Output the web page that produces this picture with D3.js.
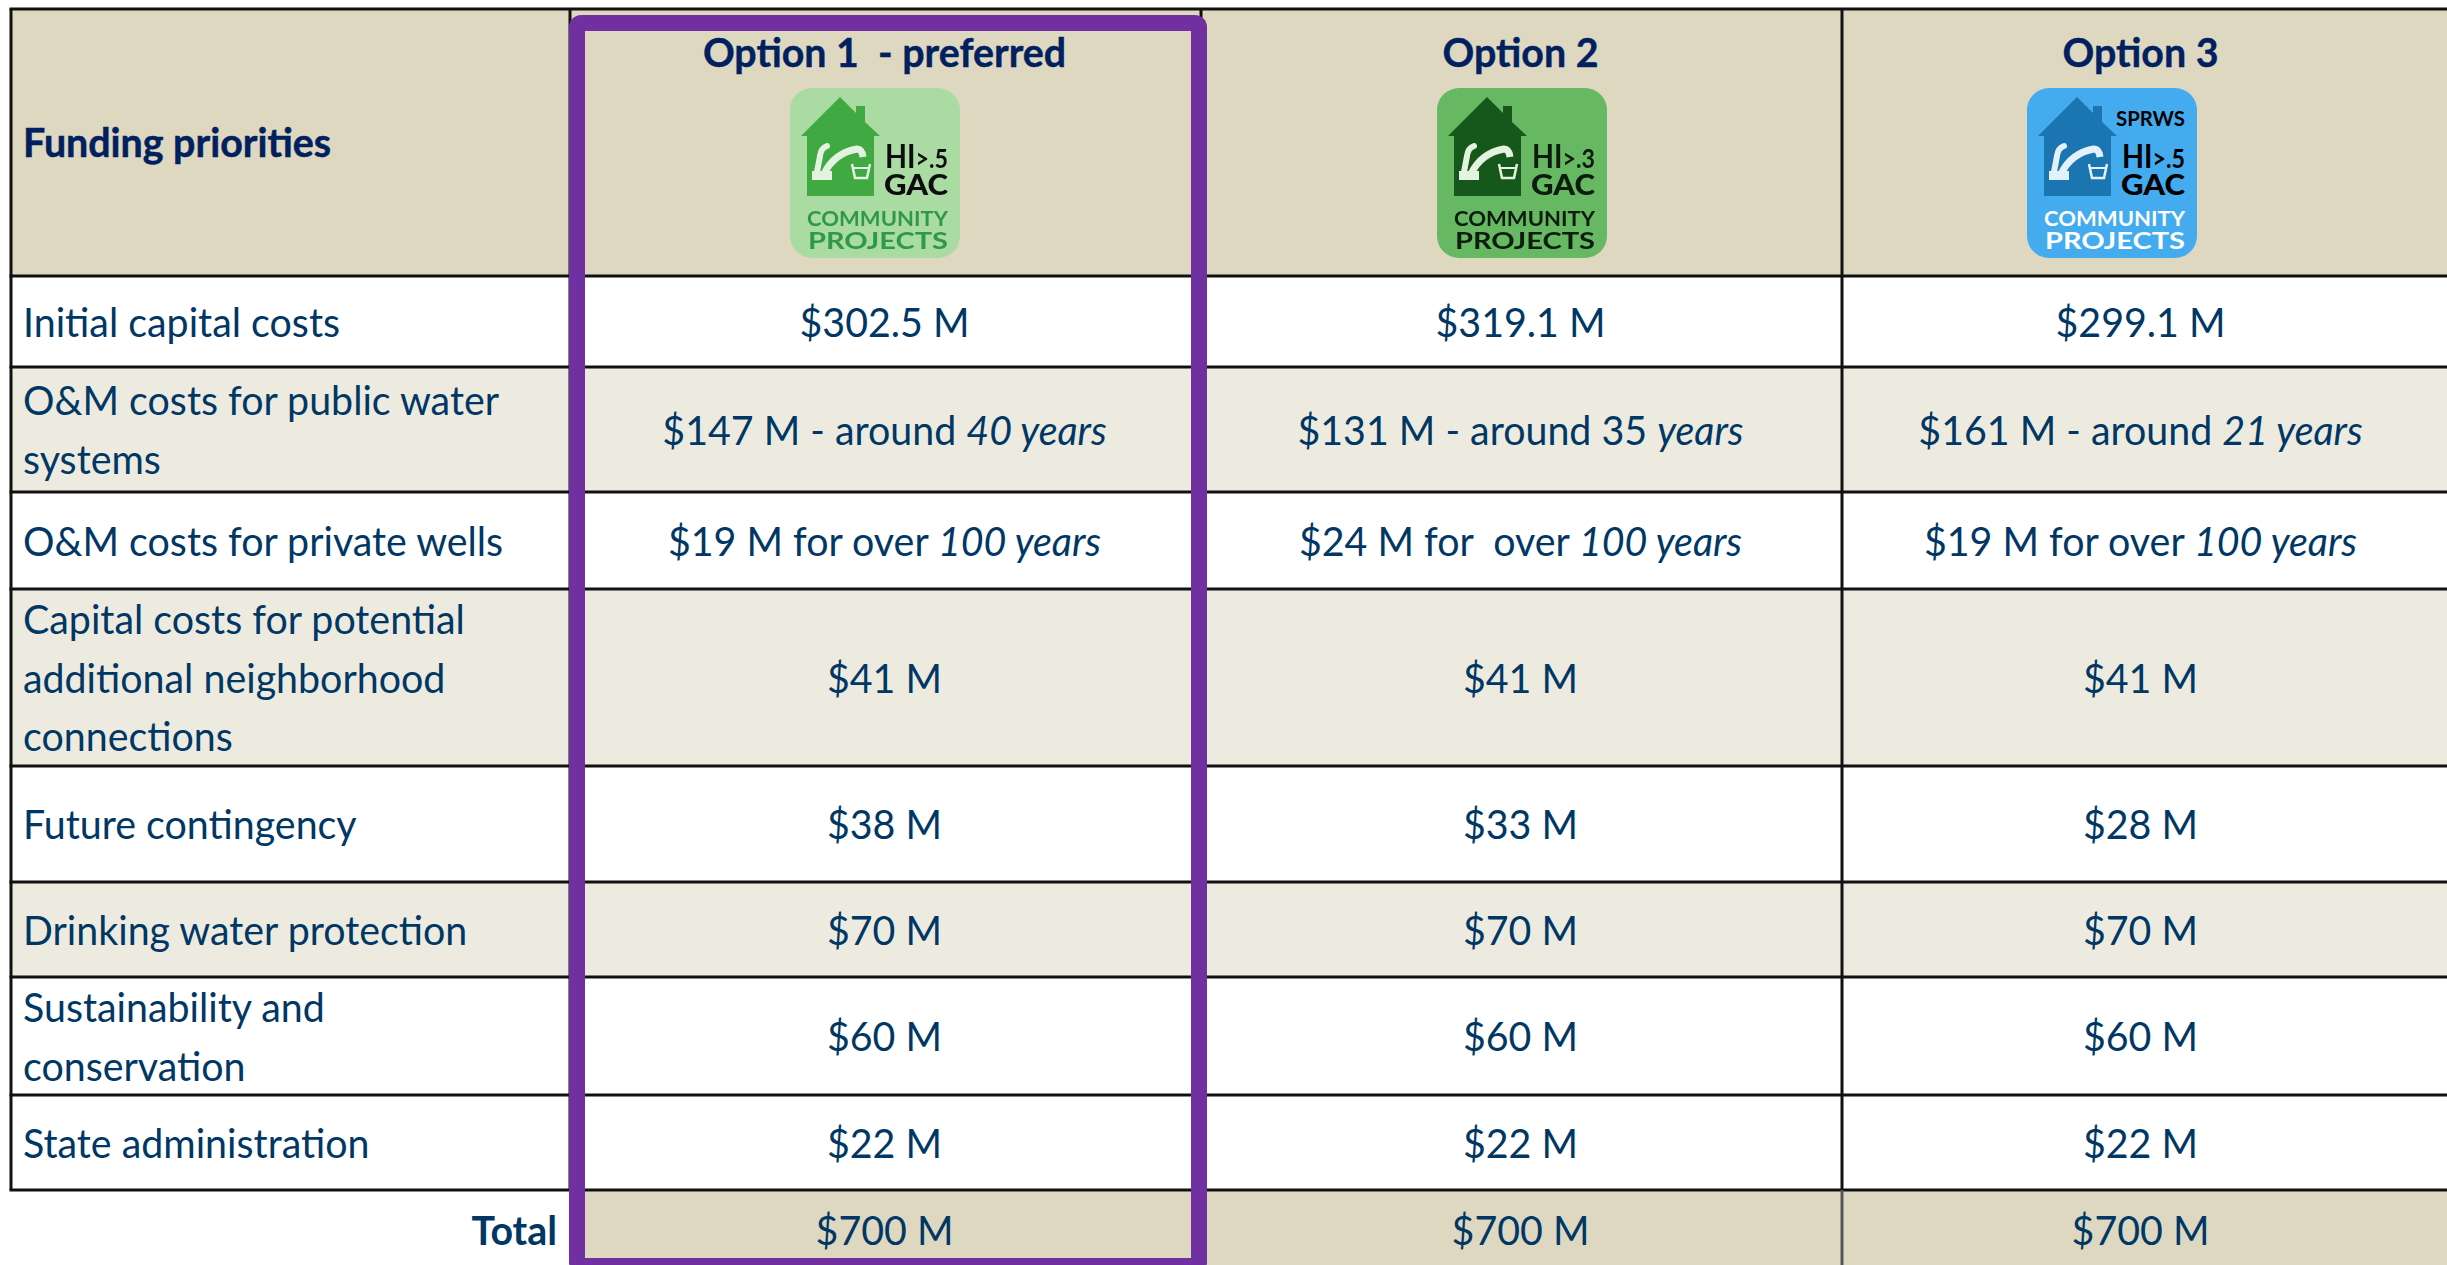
<!DOCTYPE html>
<meta charset="utf-8">
<style>
body { margin: 0; background: #fff; }
svg { display: block; }
text { font-family: Lato, "Open Sans", sans-serif; }
</style>
<body>
<script src="https://cdnjs.cloudflare.com/ajax/libs/d3/7.8.5/d3.min.js"></script>
<script>

var width = 2447,
    height = 1265;

// table content, *...* marks italic text
var headerLabel = "Funding priorities";
var options = ["Option 1  - preferred", "Option 2", "Option 3"];
var priorities = [
  ["Initial capital costs"],
  ["O&M costs for public water", "systems"],
  ["O&M costs for private wells"],
  ["Capital costs for potential", "additional neighborhood", "connections"],
  ["Future contingency"],
  ["Drinking water protection"],
  ["Sustainability and", "conservation"],
  ["State administration"]
];
var option1 = ["$302.5 M", "$147 M - around *40 years*", "$19 M for over *100 years*", "$41 M", "$38 M", "$70 M", "$60 M", "$22 M"];
var option2 = ["$319.1 M", "$131 M - around 35 *years*", "$24 M for  over *100 years*", "$41 M", "$33 M", "$70 M", "$60 M", "$22 M"];
var option3 = ["$299.1 M", "$161 M - around *21 years*", "$19 M for over *100 years*", "$41 M", "$28 M", "$70 M", "$60 M", "$22 M"];
var totalLabel = "Total";
var totals = ["$700 M", "$700 M", "$700 M"];
var logos = [
  {top: "", sub: ">.5", bg: "#a9dba3", house: "#3fa942", ink: "#111", foot: "#2f9a45", tap: "#e4f3e0", soft: true},
  {top: "", sub: ">.3", bg: "#66b962", house: "#14591c", ink: "#0b1a0d", foot: "#0b1a0d", tap: "#e4f3e0", soft: true},
  {top: "SPRWS", sub: ">.5", bg: "#43abee", house: "#1a75b0", ink: "#000", foot: "#fff", tap: "#e3f1fa", soft: false}
];

// table geometry
var colEdges = [11, 570, 1201, 1842, 2447];
var rowEdges = [9, 276, 367, 492, 589, 766, 882, 977, 1095, 1190, 1265];
var colNudge = [-1, -1, -4]; // text sits a bit left of the cell centre
var logoX = [790, 1437, 2027];

var navy = "#00205f", body = "#003764", tan = "#ded8c1", pale = "#edebe0", line = "#111";
var purple = "#7030a0";
var squeeze = 0.96; // Lato runs a little wider than the original face

var svg = d3.select("body").append("svg")
    .attr("width", width)
    .attr("height", height);

svg.append("filter").attr("id", "soft")
  .append("feGaussianBlur").attr("stdDeviation", 0.6);

var colCenter = function(i) { return (colEdges[i] + colEdges[i + 1]) / 2; };
var rowCenter = function(i) { return (rowEdges[i] + rowEdges[i + 1]) / 2; };

// text narrowed around its x position
function label(x, y) {
  return svg.append("text")
      .attr("transform", "translate(" + x + "," + y + ") scale(" + squeeze + ",1)")
      .attr("xml:space", "preserve")
      .attr("font-size", 41);
}

// row backgrounds
var rowFill = [tan, "#fff", pale, "#fff", pale, "#fff", pale, "#fff", "#fff"];
svg.selectAll(".band")
    .data(rowFill)
  .enter().append("rect")
    .attr("class", "band")
    .attr("x", colEdges[0])
    .attr("y", function(d, i) { return rowEdges[i]; })
    .attr("width", colEdges[4] - colEdges[0])
    .attr("height", function(d, i) { return rowEdges[i + 1] - rowEdges[i]; })
    .attr("fill", function(d) { return d; });

// total row
svg.append("rect")
    .attr("x", colEdges[1]).attr("y", rowEdges[9])
    .attr("width", colEdges[4] - colEdges[1]).attr("height", rowEdges[10] - rowEdges[9])
    .attr("fill", tan);

// grid
var rules = svg.append("g").attr("stroke", line).attr("stroke-width", 3);
rowEdges.slice(0, 10).forEach(function(y) {
  rules.append("line").attr("x1", colEdges[0] - 1.5).attr("x2", width).attr("y1", y).attr("y2", y);
});
colEdges.slice(0, 4).forEach(function(x) {
  rules.append("line").attr("x1", x).attr("x2", x)
      .attr("y1", rowEdges[0]).attr("y2", rowEdges[9]);
});
colEdges.slice(2, 4).forEach(function(x) {
  rules.append("line").attr("x1", x).attr("x2", x)
      .attr("y1", rowEdges[9]).attr("y2", rowEdges[10])
      .attr("stroke", "#555");
});

// row labels
var lineGap = 59;
label(23, 157)
    .attr("font-weight", 700).attr("fill", navy)
    .attr("stroke", navy).attr("stroke-width", 0.5)
    .text(headerLabel);

priorities.forEach(function(lines, i) {
  var t = label(23, rowCenter(i + 1) + 15).attr("fill", body);
  lines.forEach(function(s, k) {
    t.append("tspan")
        .attr("x", 0)
        .attr("y", (k - (lines.length - 1) / 2) * lineGap)
        .text(s);
  });
});

label(557, 1245)
    .attr("text-anchor", "end")
    .attr("font-weight", 700).attr("fill", body)
    .text(totalLabel);

// option headers
options.forEach(function(d, i) {
  label(colCenter(i + 1) + colNudge[i], 67)
      .attr("text-anchor", "middle")
      .attr("font-weight", 700).attr("fill", navy)
      .attr("stroke", navy).attr("stroke-width", 0.4)
      .text(d);
});

// value cells
[option1, option2, option3].forEach(function(values, c) {
  values.forEach(function(v, r) {
    var t = label(colCenter(c + 1) + colNudge[c], rowCenter(r + 1) + 15)
        .attr("text-anchor", "middle")
        .attr("fill", body);
    v.split("*").forEach(function(part, k) {
      if (part) t.append("tspan").attr("font-style", k % 2 ? "italic" : "normal").text(part);
    });
  });
});

totals.forEach(function(d, i) {
  label(colCenter(i + 1) + colNudge[i], 1245)
      .attr("text-anchor", "middle")
      .attr("fill", body)
      .text(d);
});

// logo, drawn in a 170 box
function drawLogo(g, d) {
  if (d.soft) g.attr("filter", "url(#soft)");
  g.append("rect").attr("width", 170).attr("height", 170).attr("rx", 22).attr("fill", d.bg);
  g.append("path")
      .attr("d", "M11 48 L50 9 L66 25 L66 18 L75 18 L75 34 L90 48 L84 48 L84 108 L17 108 L17 48 Z")
      .attr("fill", d.house);
  // tap
  g.append("path")
      .attr("d", "M27 84 L30 68 Q31 60 37 58")
      .attr("fill", "none").attr("stroke", d.tap).attr("stroke-width", 6)
      .attr("stroke-linecap", "round");
  g.append("path")
      .attr("d", "M34 86 Q44 65 67 61 Q72 61 73 69")
      .attr("fill", "none").attr("stroke", d.tap).attr("stroke-width", 7);
  g.append("rect").attr("x", 22).attr("y", 83).attr("width", 20).attr("height", 9).attr("fill", d.tap);
  // cup
  g.append("path")
      .attr("d", "M62 76 L65 90 L77 90 L80 76")
      .attr("fill", "none").attr("stroke", d.tap).attr("stroke-width", 2.5);
  g.append("path")
      .attr("d", "M63.5 80 L78.5 80")
      .attr("stroke", d.tap).attr("stroke-width", 2);
  if (d.top) {
    g.append("text").attr("x", 89).attr("y", 38)
        .attr("textLength", 69).attr("lengthAdjust", "spacingAndGlyphs")
        .attr("font-size", 21).attr("font-weight", 700).attr("fill", d.ink).text(d.top);
  }
  var hi = g.append("text").attr("x", 95).attr("y", 80)
      .attr("textLength", 63).attr("lengthAdjust", "spacingAndGlyphs")
      .attr("font-size", 32).attr("font-weight", 700).attr("fill", d.ink);
  hi.append("tspan").text("HI");
  hi.append("tspan").attr("font-size", 26).attr("font-weight", 700).text(d.sub);
  g.append("text").attr("x", 94).attr("y", 107)
      .attr("textLength", 64).attr("lengthAdjust", "spacingAndGlyphs")
      .attr("font-size", 29).attr("font-weight", 900).attr("fill", d.ink).text("GAC");
  g.append("text").attr("x", 17).attr("y", 138)
      .attr("textLength", 141).attr("lengthAdjust", "spacingAndGlyphs")
      .attr("font-size", 21).attr("font-weight", 700).attr("fill", d.foot).text("COMMUNITY");
  g.append("text").attr("x", 18).attr("y", 161)
      .attr("textLength", 140).attr("lengthAdjust", "spacingAndGlyphs")
      .attr("font-size", 23).attr("font-weight", 700).attr("fill", d.foot).text("PROJECTS");
}

logos.forEach(function(d, i) {
  drawLogo(svg.append("g").attr("transform", "translate(" + logoX[i] + ",88)"), d);
});

// highlight round option 1
svg.append("rect")
    .attr("x", 577).attr("y", 23)
    .attr("width", 622).attr("height", 1243)
    .attr("rx", 4)
    .attr("fill", "none").attr("stroke", purple).attr("stroke-width", 16);

</script>
